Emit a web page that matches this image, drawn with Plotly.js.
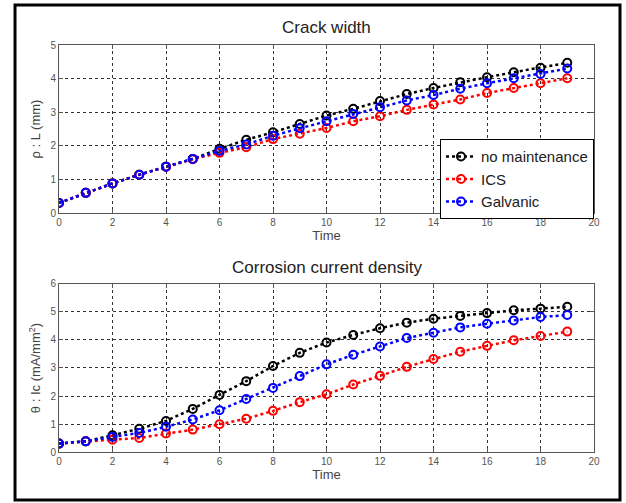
<!DOCTYPE html>
<html>
<head>
<meta charset="utf-8">
<script src="https://cdn.plot.ly/plotly-3.0.1.min.js"></script>
<style>html,body{margin:0;padding:0;background:#fff;}#chart{width:626px;height:503px;}</style>
</head>
<body>
<div id="chart"></div>
<script>
const time = [0,1,2,3,4,5,6,7,8,9,10,11,12,13,14,15,16,17,18,19];
const seriesNames = ["no maintenance","ICS","Galvanic"];
const seriesColors = ["#000000","#ff0000","#0000ff"];

// Crack width (mm)
const crackNoMaint = [0.3,0.6,0.88,1.14,1.38,1.61,1.91,2.18,2.40,2.65,2.90,3.10,3.33,3.54,3.72,3.89,4.04,4.19,4.32,4.47];
const crackICS     = [0.3,0.6,0.88,1.14,1.38,1.60,1.79,1.96,2.20,2.36,2.53,2.73,2.88,3.07,3.23,3.38,3.57,3.72,3.86,4.01];
const crackGalv    = [0.3,0.6,0.88,1.14,1.38,1.61,1.85,2.04,2.30,2.52,2.73,2.95,3.15,3.35,3.51,3.70,3.86,4.01,4.14,4.30];

// Corrosion current density (mA/mm2)
const icNoMaint = [0.3,0.38,0.60,0.83,1.11,1.54,2.04,2.53,3.07,3.54,3.91,4.18,4.42,4.62,4.76,4.86,4.96,5.06,5.12,5.19];
const icICS     = [0.3,0.38,0.44,0.50,0.66,0.80,0.99,1.19,1.47,1.78,2.06,2.41,2.72,3.04,3.32,3.58,3.79,3.99,4.14,4.30];
const icGalv    = [0.3,0.38,0.54,0.68,0.90,1.16,1.49,1.89,2.29,2.71,3.13,3.47,3.77,4.07,4.26,4.45,4.58,4.70,4.82,4.89];

const topData = [crackNoMaint, crackICS, crackGalv];
const botData = [icNoMaint, icICS, icGalv];

const traces = [];
topData.forEach((ys,i)=>{
  traces.push({x:time,y:ys,name:seriesNames[i],type:'scatter',mode:'lines+markers',
    xaxis:'x',yaxis:'y',
    line:{color:seriesColors[i],dash:'dot',width:2.5},
    marker:{symbol:'circle-open',size:8,color:seriesColors[i],line:{width:2,color:seriesColors[i]}}});
});
botData.forEach((ys,i)=>{
  traces.push({x:time,y:ys,name:seriesNames[i],type:'scatter',mode:'lines+markers',showlegend:false,
    xaxis:'x2',yaxis:'y2',
    line:{color:seriesColors[i],dash:'dot',width:2.5},
    marker:{symbol:'circle-open',size:8,color:seriesColors[i],line:{width:2,color:seriesColors[i]}}});
});

const FONT = 'Arial, Liberation Sans, sans-serif';
const axBase = {showline:true,mirror:'ticks',linecolor:'#555',linewidth:1,
  showgrid:true,gridcolor:'#333',griddash:'dot',gridwidth:1,zeroline:false,
  ticks:'inside',ticklen:4,tickcolor:'#555',
  tickfont:{family:FONT,size:10,color:'#555'}};
const titleFont = {family:FONT,size:13,color:'#444'};

const layout = {
  width:626,height:503,
  margin:{l:59,r:32,t:45,b:51},
  paper_bgcolor:'#fff',plot_bgcolor:'#fff',
  showlegend:true,
  legend:{x:1,y:0.572,xanchor:'right',yanchor:'bottom',bordercolor:'#000',borderwidth:1,bgcolor:'#fff',
    font:{family:FONT,size:15,color:'#222'},tracegroupgap:0},
  xaxis:Object.assign({},axBase,{domain:[0,1],range:[0,20],dtick:2,anchor:'y',
    title:{text:'Time',font:titleFont,standoff:3}}),
  yaxis:Object.assign({},axBase,{domain:[0.5872,1],range:[0,5],dtick:1,anchor:'x',
    title:{text:'ρ : L (mm)',font:titleFont,standoff:6}}),
  xaxis2:Object.assign({},axBase,{domain:[0,1],range:[0,20],dtick:2,anchor:'y2',
    title:{text:'Time',font:titleFont,standoff:3}}),
  yaxis2:Object.assign({},axBase,{domain:[0,0.4128],range:[0,6],dtick:1,anchor:'x2',
    title:{text:'θ : Ic (mA/mm<sup>2</sup>)',font:titleFont,standoff:6}}),
  annotations:[
    {text:'Crack width',xref:'paper',yref:'paper',x:0.5,y:1.044,xanchor:'center',yanchor:'middle',showarrow:false,
      font:{family:FONT,size:17,color:'#222'}},
    {text:'Corrosion current density',xref:'paper',yref:'paper',x:0.5,y:0.4545,xanchor:'center',yanchor:'middle',showarrow:false,
      font:{family:FONT,size:17,color:'#222'}}
  ],
  shapes:[
    {type:'rect',xref:'paper',yref:'paper',x0:-0.0822,x1:1.0486,y0:-0.118,y1:1.0983,
      line:{color:'#000',width:3},fillcolor:'rgba(0,0,0,0)',layer:'above'}
  ]
};

Plotly.newPlot('chart',traces,layout,{displayModeBar:false,staticPlot:true});
</script>
</body>
</html>
